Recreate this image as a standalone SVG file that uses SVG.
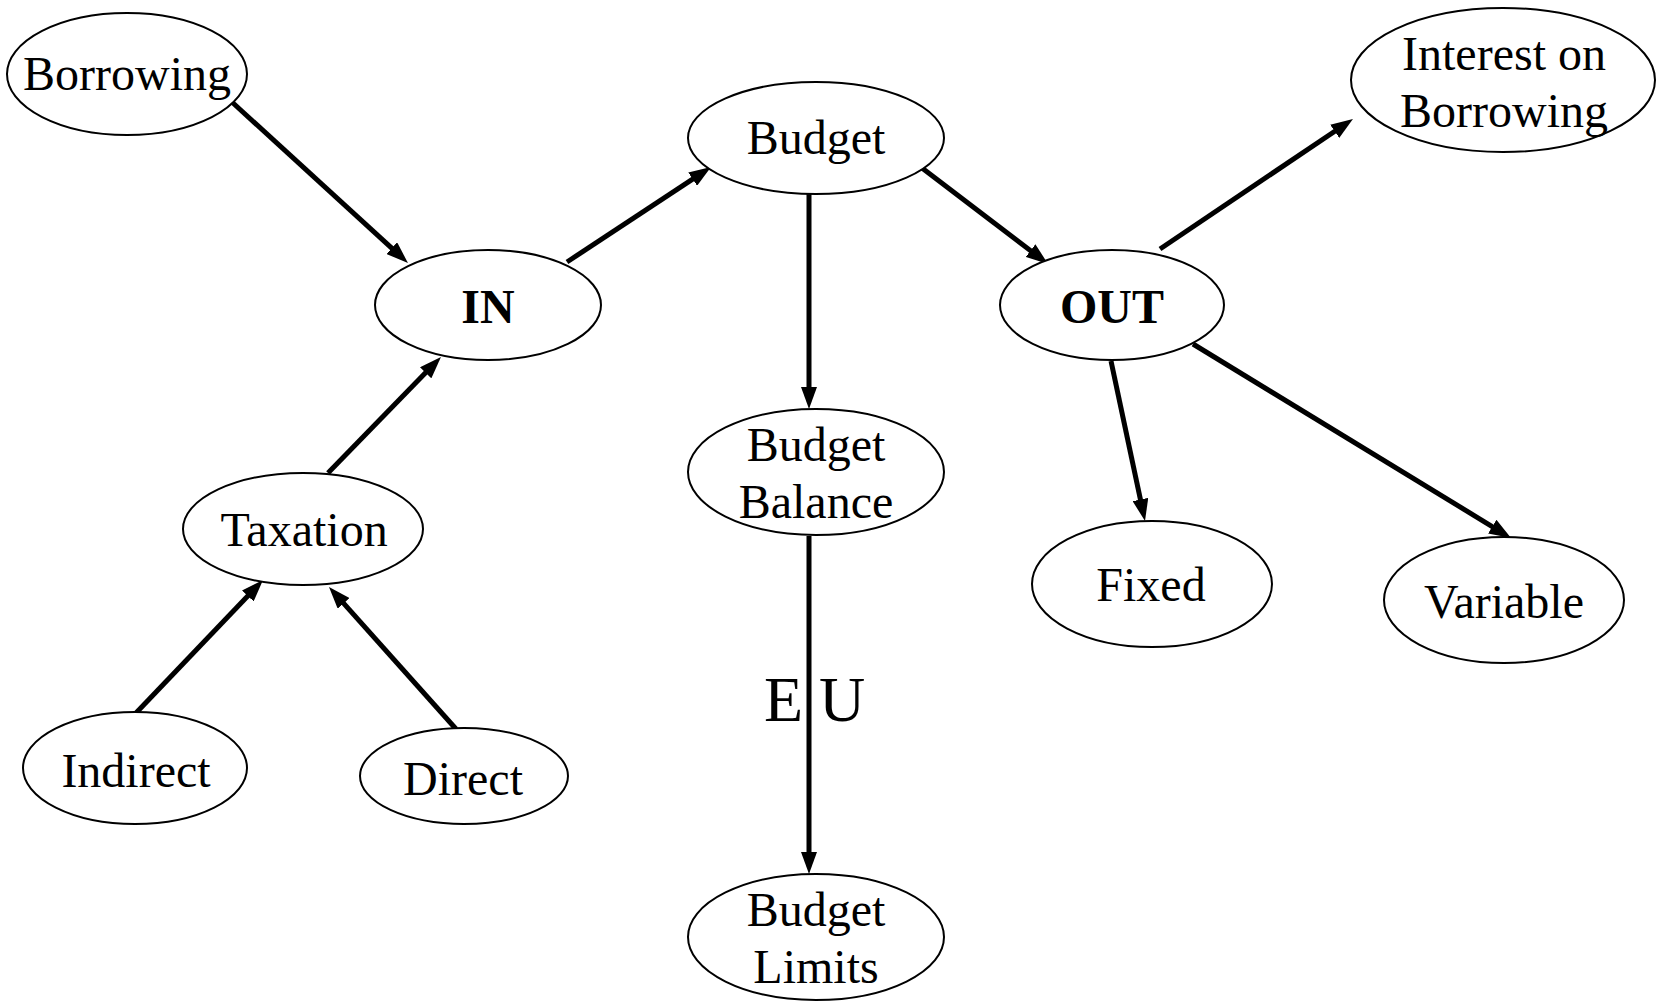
<svg xmlns="http://www.w3.org/2000/svg" width="1663" height="1003" viewBox="0 0 1663 1003">
<style>
.n ellipse{fill:#fff;stroke:#000;stroke-width:2}
.n text{font-family:"Liberation Serif","Times New Roman",serif;font-size:48px;text-anchor:middle;fill:#000}
.b{font-weight:bold}
#edges line{stroke:#000;stroke-width:5;marker-end:url(#ah)}
.lbl{font-family:"Liberation Serif","Times New Roman",serif;font-size:64px;fill:#000}
</style>
<defs>
<marker id="ah" markerUnits="userSpaceOnUse" markerWidth="22" markerHeight="16" refX="10" refY="8" orient="auto">
<path d="M0,0 L22,8 L0,16 z" fill="#000"/>
</marker>
</defs>
<rect width="1663" height="1003" fill="#fff"/>
<g id="edges">
<line x1="233" y1="103" x2="399.1" y2="254.9"/>
<line x1="328" y1="473" x2="432.6" y2="365.6"/>
<line x1="567" y1="262" x2="701" y2="173.6"/>
<line x1="809" y1="194" x2="809" y2="397"/>
<line x1="922" y1="168" x2="1038.5" y2="256.7"/>
<line x1="1160" y1="249" x2="1343" y2="125.7"/>
<line x1="1111" y1="361" x2="1142.5" y2="509.3"/>
<line x1="1193" y1="344" x2="1500.8" y2="531.8"/>
<line x1="136" y1="713" x2="254.7" y2="588.7"/>
<line x1="456" y1="729" x2="337" y2="595.9"/>
<line x1="809" y1="536" x2="809" y2="862"/>
</g>
<text class="lbl" x="764" y="721">E U</text>
<g id="borrowing" class="n"><ellipse cx="127" cy="74" rx="120" ry="61"/><text x="127" y="90">Borrowing</text></g>
<g id="in" class="n"><ellipse cx="488" cy="305" rx="113" ry="55"/><text class="b" x="488" y="323">IN</text></g>
<g id="budget" class="n"><ellipse cx="816" cy="138" rx="128" ry="56"/><text x="816" y="154">Budget</text></g>
<g id="out" class="n"><ellipse cx="1112" cy="305" rx="112" ry="55"/><text class="b" x="1112" y="323">OUT</text></g>
<g id="interest" class="n"><ellipse cx="1503" cy="80" rx="152" ry="72"/><text x="1504" y="70">Interest on</text><text x="1504" y="127">Borrowing</text></g>
<g id="budget-balance" class="n"><ellipse cx="816" cy="472" rx="128" ry="63"/><text x="816" y="461">Budget</text><text x="816" y="518">Balance</text></g>
<g id="taxation" class="n"><ellipse cx="303" cy="529" rx="120" ry="56"/><text x="304" y="546">Taxation</text></g>
<g id="fixed" class="n"><ellipse cx="1152" cy="584" rx="120" ry="63"/><text x="1151" y="601">Fixed</text></g>
<g id="variable" class="n"><ellipse cx="1504" cy="600" rx="120" ry="63"/><text x="1504" y="618">Variable</text></g>
<g id="indirect" class="n"><ellipse cx="135" cy="768" rx="112" ry="56"/><text x="136" y="787">Indirect</text></g>
<g id="direct" class="n"><ellipse cx="464" cy="776" rx="104" ry="48"/><text x="463" y="795">Direct</text></g>
<g id="budget-limits" class="n"><ellipse cx="816" cy="937" rx="128" ry="63"/><text x="816" y="926">Budget</text><text x="816" y="983">Limits</text></g>
</svg>
